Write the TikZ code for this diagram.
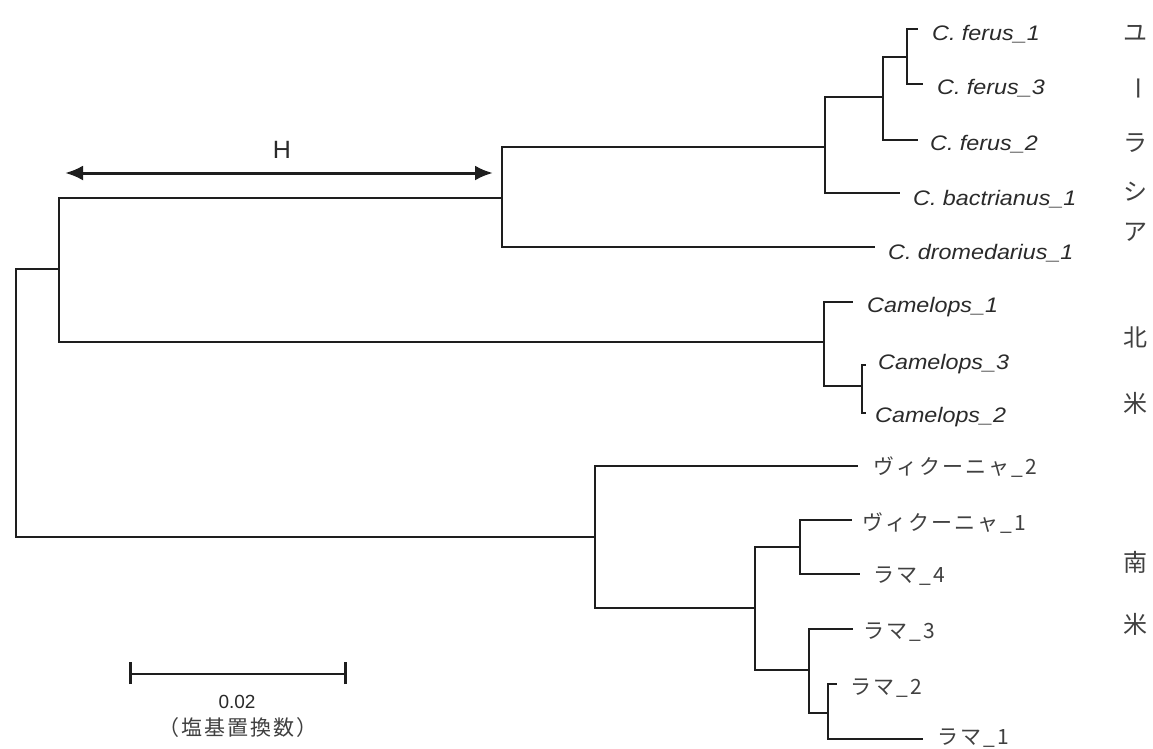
\documentclass[tikz,border=0pt]{standalone}
\usepackage{fontspec}
\setmainfont{Liberation Sans}
\newfontfamily\labfont[FakeStretch=1.11]{Liberation Sans}
\newfontfamily\jpfont[LetterSpace=10]{Noto Sans CJK JP}
\newfontfamily\jpreg{Noto Sans CJK JP}
\usetikzlibrary{arrows.meta}
\definecolor{ink}{HTML}{1E1E1E}
\definecolor{txt}{HTML}{2A2A2A}
\definecolor{jtxt}{HTML}{404040}
\begin{document}
\begin{tikzpicture}[x=1pt,y=-1pt,
  branch/.style={draw=ink,line width=2.6pt,line join=miter},
  leaf/.style={anchor=base west,inner sep=0pt,text=txt,font=\labfont\itshape\fontsize{21}{21}\selectfont},
  jleaf/.style={anchor=base west,inner sep=0pt,text=jtxt,font=\jpfont\fontsize{21}{21}\selectfont},
  region/.style={inner sep=0pt,text=jtxt,font=\jpreg\fontsize{24}{24}\selectfont},
  harrow/.style={draw=ink,line width=3pt,{Latex[length=18pt,width=15pt]}-{Latex[length=18pt,width=15pt]}},
  scalebar/.style={draw=ink,line width=2.6pt}]
\path[use as bounding box,fill=white] (0,0) rectangle (1153,748);

% internal nodes
\coordinate (R) at (16,400);
\coordinate (A) at (59,269);
\coordinate (Cm) at (502,198);
\coordinate (F) at (825,147);
\coordinate (G) at (883,97);
\coordinate (K) at (907,57);
\coordinate (Cp) at (824,342);
\coordinate (CM) at (862,386);
\coordinate (S) at (595,537);
\coordinate (B) at (755,608);
\coordinate (Cv) at (800,547);
\coordinate (D) at (809,670);
\coordinate (E) at (828,713);

% leaf ends
\coordinate (ef1) at (918,29);
\coordinate (ef3) at (923,84);
\coordinate (ef2) at (918,140);
\coordinate (ebac) at (900,193);
\coordinate (edro) at (875,247);
\coordinate (ecam1) at (853,302);
\coordinate (ecam3) at (866,365);
\coordinate (ecam2) at (866,413);
\coordinate (evic2) at (858,466);
\coordinate (evic1) at (852,520);
\coordinate (el4) at (860,574);
\coordinate (el3) at (853,629);
\coordinate (el2) at (837,684);
\coordinate (el1) at (923,739);

% labels
\node[leaf] (lf1) at (932,40.5) {C. ferus\_1};
\node[leaf] (lf3) at (937,94.5) {C. ferus\_3};
\node[leaf] (lf2) at (930,150.5) {C. ferus\_2};
\node[leaf] (lbac) at (913,205.5) {C. bactrianus\_1};
\node[leaf] (ldro) at (888,259.5) {C. dromedarius\_1};
\node[leaf] (lcam1) at (867,312.5) {Camelops\_1};
\node[leaf] (lcam3) at (878,369.5) {Camelops\_3};
\node[leaf] (lcam2) at (875,422.5) {Camelops\_2};
\node[jleaf] (lvic2) at (873,474.5) {ヴィクーニャ\_2};
\node[jleaf] (lvic1) at (862,530.5) {ヴィクーニャ\_1};
\node[jleaf] (ll4) at (873,582.5) {ラマ\_4};
\node[jleaf] (ll3) at (863,638.5) {ラマ\_3};
\node[jleaf] (ll2) at (850,694.5) {ラマ\_2};
\node[jleaf] (ll1) at (937,744.5) {ラマ\_1};

% branches
\draw[branch] (R) |- (A);
\draw[branch] (R) |- (S);
\draw[branch] (A) |- (Cm);
\draw[branch] (A) |- (Cp);
\draw[branch] (Cm) |- (F);
\draw[branch] (Cm) |- (edro);
\draw[branch] (F) |- (G);
\draw[branch] (F) |- (ebac);
\draw[branch] (G) |- (K);
\draw[branch] (G) |- (ef2);
\draw[branch] (K) |- (ef1);
\draw[branch] (K) |- (ef3);
\draw[branch] (Cp) |- (ecam1);
\draw[branch] (Cp) |- (CM);
\draw[branch] (CM) |- (ecam3);
\draw[branch] (CM) |- (ecam2);
\draw[branch] (S) |- (evic2);
\draw[branch] (S) |- (B);
\draw[branch] (B) |- (Cv);
\draw[branch] (B) |- (D);
\draw[branch] (Cv) |- (evic1);
\draw[branch] (Cv) |- (el4);
\draw[branch] (D) |- (el3);
\draw[branch] (D) |- (E);
\draw[branch] (E) |- (el2);
\draw[branch] (E) |- (el1);

% H arrow
\coordinate (Hl) at (65,173);
\coordinate (Hr) at (493,173);
\draw[harrow] (Hl) -- (Hr);
\node[inner sep=0pt,text=txt,font=\fontsize{25}{25}\selectfont] (Hlab) at (282,150) {H};

% region labels
\node[region] (r1) at (1135,33) {ユ};
\node[region,rotate=-90] (r2) at (1135,88) {ー};
\node[region] (r3) at (1135,143) {ラ};
\node[region] (r4) at (1135,192) {シ};
\node[region] (r5) at (1135,232) {ア};
\node[region] (r6) at (1135,337) {北};
\node[region] (r7) at (1135,403) {米};
\node[region] (r8) at (1135,562) {南};
\node[region] (r9) at (1135,624) {米};

% scale bar
\coordinate (sbl) at (130,674);
\coordinate (sbr) at (345,674);
\draw[scalebar] (sbl) -- (sbr);
\draw[scalebar,line width=3pt] ([yshift=-10pt]sbl) -- ([yshift=12pt]sbl);
\draw[scalebar,line width=3pt] ([yshift=-10pt]sbr) -- ([yshift=12pt]sbr);
\node[inner sep=0pt,text=txt,font=\fontsize{19}{19}\selectfont] (sbv) at (237,702) {0.02};
\node[inner sep=0pt,text=jtxt,font=\jpfont\fontsize{21}{21}\selectfont] (sbu) at (238,728) {（塩基置換数）};
\end{tikzpicture}
\end{document}
